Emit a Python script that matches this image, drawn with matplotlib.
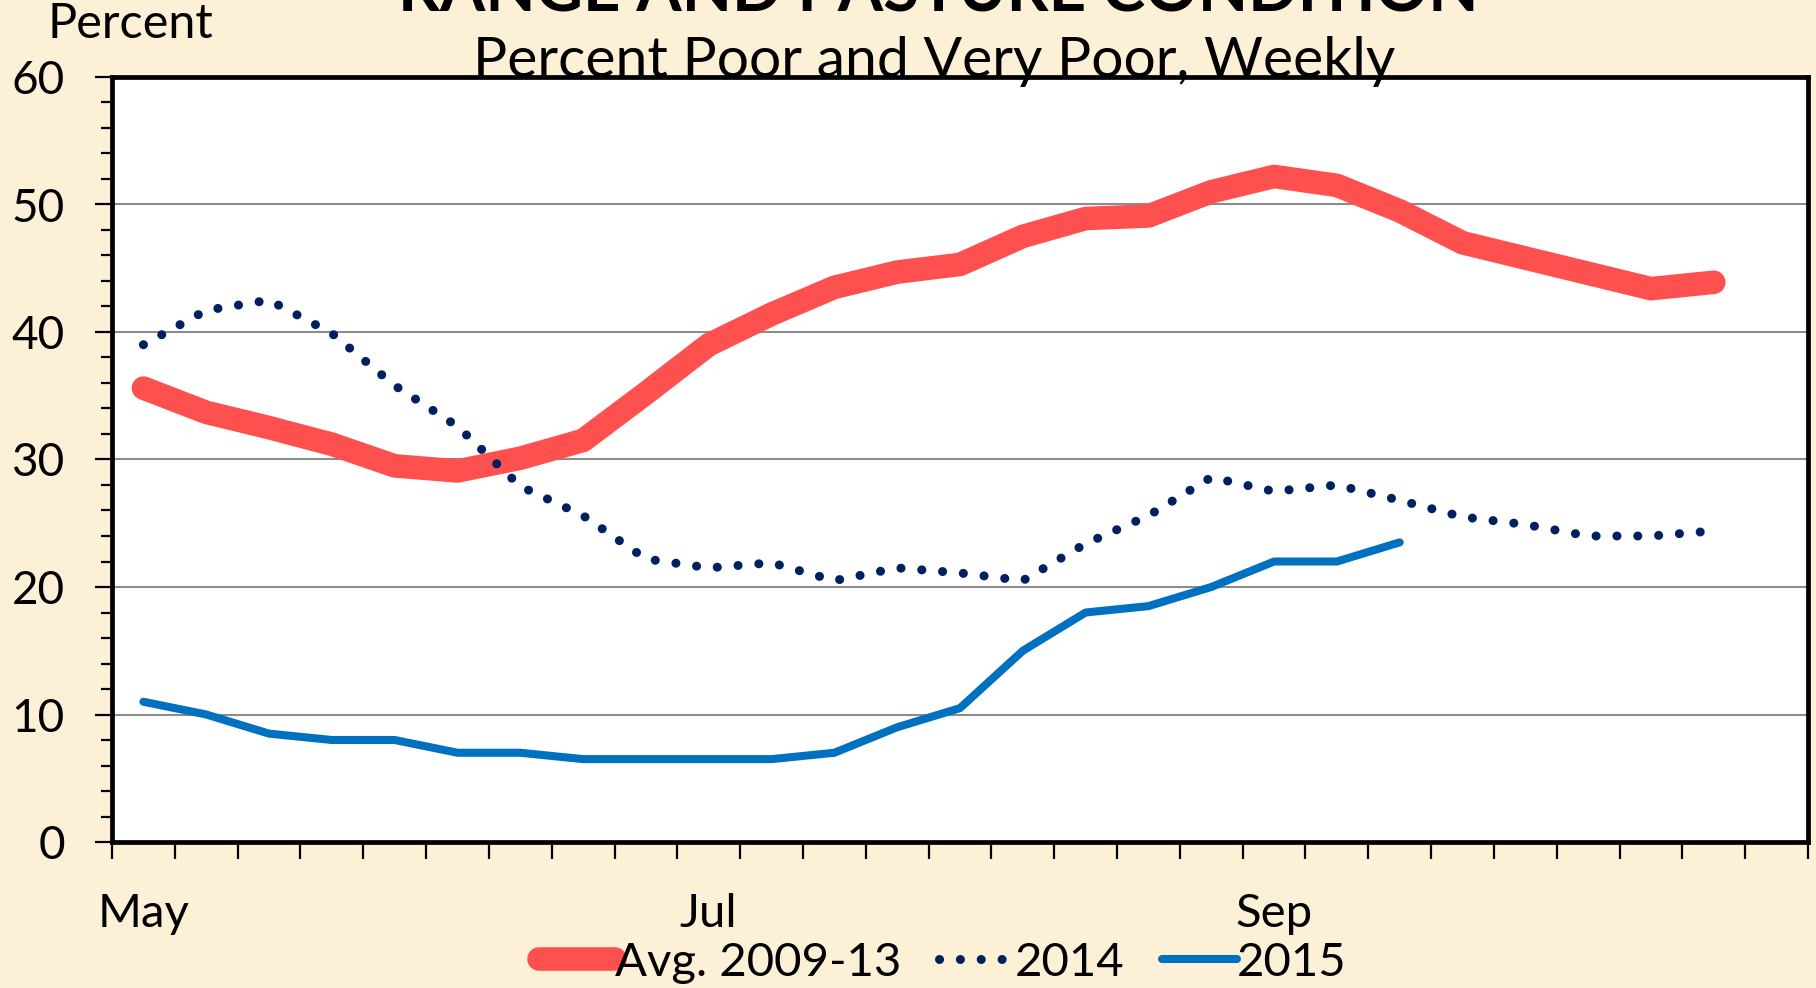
import numpy as np
import matplotlib.pyplot as plt
from matplotlib.ticker import MultipleLocator

plt.rcParams['font.family'] = ['Lato', 'DejaVu Sans']

# weekly values, first week of May onward
avg_0913 = [35.6, 33.7, 32.5, 31.2, 29.5, 29.1, 30.1, 31.5, 35.2, 39.0,
            41.4, 43.5, 44.7, 45.3, 47.5, 48.9, 49.1, 51.0, 52.2, 51.5,
            49.5, 47.0, 45.8, 44.6, 43.4, 43.9]
y2014 = [39.0, 41.7, 42.5, 39.9, 35.8, 32.6, 27.9, 25.6, 22.2, 21.5,
         21.9, 20.5, 21.5, 21.1, 20.5, 23.4, 25.6, 28.6, 27.5, 28.0,
         26.8, 25.5, 24.9, 24.0, 24.0, 24.4]
y2015 = [11.0, 10.0, 8.5, 8.0, 8.0, 7.0, 7.0, 6.5, 6.5, 6.5,
         6.5, 7.0, 9.0, 10.5, 15.0, 18.0, 18.5, 20.0, 22.0, 22.0, 23.5]
month_pos = [0, 9, 18]
month_labels = ['May', 'Jul', 'Sep']
n_weeks = 27

bg = '#FCF0D6'
W, H = 1816, 988
fig = plt.figure(figsize=(W / 100, H / 100), dpi=100, facecolor=bg)
ax = fig.add_axes([112 / W, 1 - 842 / H, (1808 - 112) / W, (842 - 77) / H])
ax.set_facecolor('white')

ax.plot(range(len(avg_0913)), avg_0913, color='#FF5050', lw=17,
        solid_capstyle='round', solid_joinstyle='round', label='Avg. 2009-13', zorder=3)
ax.plot(range(len(y2014)), y2014, color='#002060', lw=6.5,
        linestyle=(0, (0.01, 2.3)), dash_capstyle='round', label='2014', zorder=4)
ax.plot(range(len(y2015)), y2015, color='#0070C0', lw=5.8,
        solid_capstyle='round', solid_joinstyle='round', label='2015', zorder=5)

ax.set_xlim(-0.5, n_weeks - 0.5)
ax.set_ylim(0, 60)
ax.set_yticks(range(0, 61, 10))
ax.yaxis.set_minor_locator(MultipleLocator(2))
ax.grid(axis='y', color='#8c8c8c', lw=1.5)
ax.set_axisbelow(True)

ax.set_xticks(np.arange(-0.5, n_weeks, 1))
ax.set_xticklabels([])
ax.set_xticks(month_pos, month_labels, minor=True)
ax.tick_params(axis='x', which='major', direction='out', length=12, width=1.6, color='black')
ax.tick_params(axis='x', which='minor', length=0, pad=37, labelsize=34)
ax.tick_params(axis='y', which='major', direction='out', length=12, width=1.6, labelsize=33, pad=22)
ax.tick_params(axis='y', which='minor', direction='out', length=8, width=1.6)

for s in ax.spines.values():
    s.set_linewidth(3.4)
    s.set_color('black')

fig.text(938 / W, 1 - 12 / H, 'RANGE AND PASTURE CONDITION', ha='center', va='baseline',
         fontsize=47, weight='bold')
fig.text(934 / W, 1 - 77 / H, 'Percent Poor and Very Poor, Weekly', ha='center', va='baseline',
         fontsize=41, zorder=10)
fig.text(48 / W, 1 - 38 / H, 'Percent', ha='left', va='baseline', fontsize=35)

fig.legend(loc='center', bbox_to_anchor=(943 / W, 1 - 963 / H), ncol=3, frameon=False,
           fontsize=34, handlelength=1.6, handletextpad=0.0, columnspacing=0.8,
           borderaxespad=0)

fig.savefig('out.png', dpi=100, facecolor=bg)
